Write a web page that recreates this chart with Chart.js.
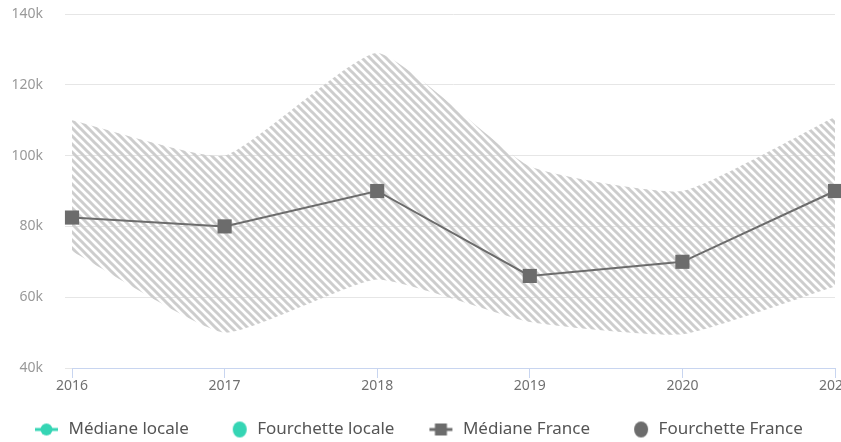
<!DOCTYPE html>
<html lang="fr">
<head>
<meta charset="utf-8">
<script src="https://cdn.jsdelivr.net/npm/chart.js@4.4.0/dist/chart.umd.min.js"></script>
<style>
  html, body { margin: 0; padding: 0; background: #fff; overflow: hidden; }
  .wrap { width: 841px; height: 442px; position: relative; }
</style>
</head>
<body>
<div class="wrap"><canvas id="chart"></canvas></div>
<script>
const annees = ['2016', '2017', '2018', '2019', '2020', '2021']
const medianeFrance = [82500, 80000, 90000, 66000, 70000, 90000]
const fourchetteFranceHaut = [110000, 100000, 129000, 97000, 90000, 111000]
const fourchetteFranceBas = [73000, 50000, 65000, 53000, 49500, 63000]
const medianeLocale = []
const fourchetteLocale = []
const yTicks = [40000, 60000, 80000, 100000, 120000, 140000]
const legendLabels = ['Médiane locale', 'Fourchette locale', 'Médiane France', 'Fourchette France']

const teal = '#35d5b4'
const grey = '#6c6c6c'
const fontFamily = '"Noto Sans", sans-serif'
const iconWidth = 57

// diagonal hatch for the France range
function makeHatch() {
    const size = 8
    const c = document.createElement('canvas')
    c.width = size
    c.height = size
    const g = c.getContext('2d')
    g.strokeStyle = '#cdcdcd'
    g.lineWidth = 3
    for (let k = -1; k <= 1; k++) {
        g.beginPath()
        g.moveTo(-size, -size + k * size)
        g.lineTo(2 * size, 2 * size + k * size)
        g.stroke()
    }
    return g.createPattern(c, 'repeat')
}

// legend icons, drawn at the right end of a wider box to space the items
function legendIcon(color, shape, withLine) {
    const h = 20
    const c = document.createElement('canvas')
    c.width = iconWidth
    c.height = h
    const g = c.getContext('2d')
    g.fillStyle = color
    g.strokeStyle = color
    const right = iconWidth - 2
    if (withLine) {
        g.lineWidth = 3
        g.beginPath()
        g.moveTo(right - 23, h / 2)
        g.lineTo(right, h / 2)
        g.stroke()
        g.beginPath()
        if (shape === 'circle') g.arc(right - 11.5, h / 2, 6, 0, Math.PI * 2)
        else g.rect(right - 17.5, h / 2 - 6, 12, 12)
        g.fill()
    } else {
        g.beginPath()
        g.ellipse(right - 7, h / 2, 7, 8, 0, 0, Math.PI * 2)
        g.fill()
    }
    return c
}

const icons = [
    legendIcon(teal, 'circle', true),
    legendIcon(teal, 'circle', false),
    legendIcon(grey, 'rect', true),
    legendIcon(grey, 'circle', false)
]

const ctx = document.getElementById('chart').getContext('2d')
const hatch = makeHatch()

new Chart(ctx, {
    type: 'line',
    data: {
        labels: annees,
        datasets: [
            {
                label: legendLabels[2],
                data: medianeFrance,
                borderColor: grey,
                backgroundColor: grey,
                borderWidth: 2,
                pointStyle: 'rect',
                pointRadius: 10,
                pointBorderWidth: 0,
                tension: 0,
                fill: false
            },
            {
                label: legendLabels[3],
                data: fourchetteFranceHaut,
                borderColor: 'rgba(0,0,0,0)',
                backgroundColor: hatch,
                pointRadius: 0,
                tension: 0.15,
                fill: '+1'
            },
            {
                label: 'bas',
                data: fourchetteFranceBas,
                borderColor: 'rgba(0,0,0,0)',
                pointRadius: 0,
                tension: 0.15,
                fill: false
            },
            {
                label: legendLabels[0],
                data: medianeLocale,
                borderColor: teal,
                backgroundColor: teal
            },
            {
                label: legendLabels[1],
                data: fourchetteLocale,
                borderColor: teal,
                backgroundColor: teal
            }
        ]
    },
    options: {
        responsive: true,
        maintainAspectRatio: false,
        animation: false,
        layout: {
            autoPadding: false,
            padding: { top: 14, right: 6, left: 0, bottom: 0 }
        },
        plugins: {
            tooltip: { enabled: false },
            legend: {
                position: 'bottom',
                align: 'start',
                maxHeight: 24,
                onClick: null,
                labels: {
                    usePointStyle: true,
                    pointStyleWidth: iconWidth,
                    padding: 3,
                    color: '#555555',
                    font: { family: fontFamily, size: 17 },
                    generateLabels: () => legendLabels.map((text, i) => ({
                        text: text,
                        pointStyle: icons[i],
                        fillStyle: 'rgba(0,0,0,0)',
                        strokeStyle: 'rgba(0,0,0,0)',
                        lineWidth: 0,
                        hidden: false,
                        fontColor: '#555555'
                    }))
                }
            }
        },
        scales: {
            x: {
                grid: {
                    drawOnChartArea: false,
                    drawTicks: true,
                    tickLength: 10,
                    color: '#c8d5f0'
                },
                border: { color: '#c8d5f0', width: 1 },
                ticks: {
                    color: '#707070',
                    padding: 0,
                    maxRotation: 0,
                    autoSkip: false,
                    font: { family: fontFamily, size: 14 }
                },
                afterFit: (scale) => {
                    scale.height = 50
                    scale.paddingLeft = 0
                    scale.paddingRight = 0
                }
            },
            y: {
                min: yTicks[0],
                max: yTicks[yTicks.length - 1],
                afterBuildTicks: (scale) => {
                    scale.ticks = yTicks.map(v => ({ value: v }))
                },
                grid: {
                    color: '#e6e6e6',
                    drawTicks: true,
                    tickLength: 7
                },
                border: { display: false },
                ticks: {
                    color: '#999999',
                    padding: 22,
                    font: { family: fontFamily, size: 14 },
                    callback: (v) => (v / 1000) + 'k'
                },
                afterFit: (scale) => {
                    scale.width = 72
                    scale.paddingTop = 0
                    scale.paddingBottom = 0
                }
            }
        }
    }
})
</script>
</body>
</html>
